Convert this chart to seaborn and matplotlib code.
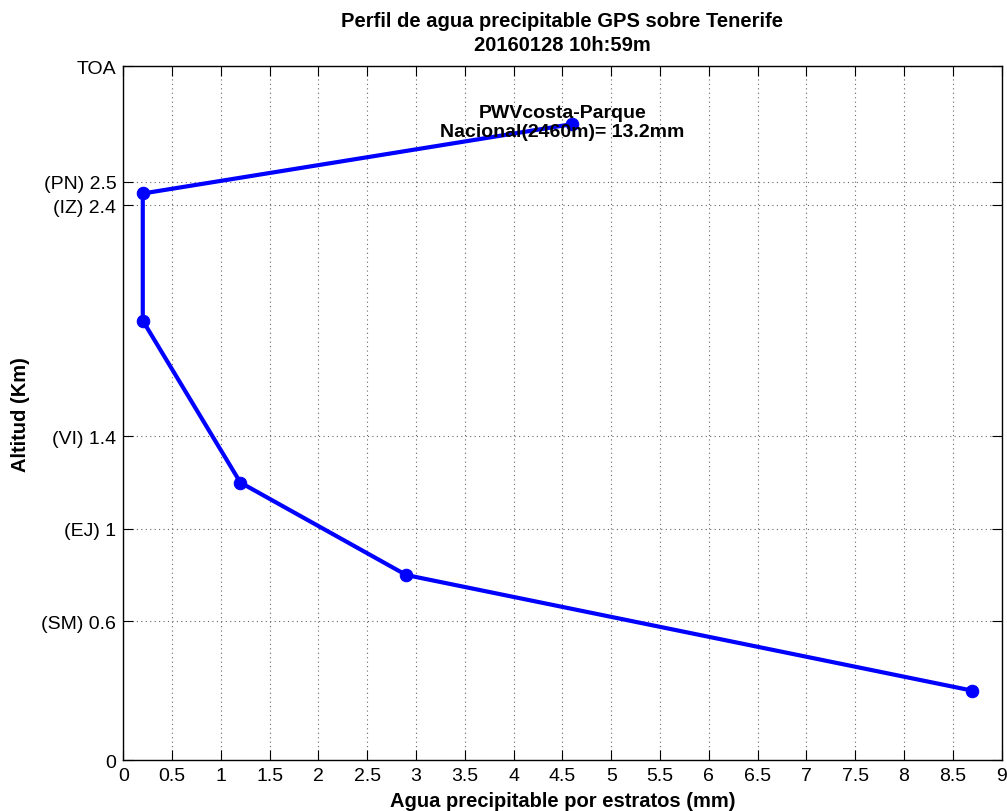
import matplotlib
matplotlib.use("Agg")
import matplotlib.pyplot as plt
import seaborn as sns
import pandas as pd

# Precipitable water per layer (mm) and layer altitude (km)
pwv_mm = [8.7, 2.9, 1.2, 0.2, 0.2, 4.6]
altitude_km = [0.3, 0.8, 1.2, 1.9, 2.45, 2.75]

ytick_values = [0, 0.6, 1, 1.4, 2.4, 2.5, 3.0]
ytick_labels = ["0", "(SM) 0.6", "(EJ) 1", "(VI) 1.4", "(IZ) 2.4", "(PN) 2.5", "TOA"]
xtick_values = [0, 0.5, 1, 1.5, 2, 2.5, 3, 3.5, 4, 4.5, 5, 5.5, 6, 6.5, 7, 7.5, 8, 8.5, 9]
xtick_labels = ["0", "0.5", "1", "1.5", "2", "2.5", "3", "3.5", "4", "4.5",
                "5", "5.5", "6", "6.5", "7", "7.5", "8", "8.5", "9"]

title_text = "Perfil de agua precipitable GPS sobre Tenerife\n20160128 10h:59m"
note_text = "PWVcosta-Parque\nNacional(2460m)= 13.2mm"

sns.set_theme(style="ticks")
plt.rcParams["font.family"] = ["Liberation Sans", "DejaVu Sans"]
plt.rcParams["text.color"] = "black"
plt.rcParams["axes.labelcolor"] = "black"

df = pd.DataFrame({"pwv": pwv_mm, "alt": altitude_km})

fig = plt.figure(figsize=(10.07, 8.12), dpi=100)
ax = fig.add_axes([0.1224, 0.0628, 0.8722, 0.8543])

sns.lineplot(data=df, x="pwv", y="alt", sort=False, estimator=None, ax=ax,
             color="#0000ff", linewidth=3.0, marker="o", markersize=9,
             markeredgecolor="#0000ff", markerfacecolor="#0000ff")

ax.set_xlim(0, 9)
ax.set_ylim(0, 3.0)
ax.set_xticks(xtick_values)
ax.set_xticklabels(xtick_labels)
ax.set_yticks(ytick_values)
ax.set_yticklabels(ytick_labels)

ax.grid(True, linestyle=(0, (1, 3)), color="#666666", linewidth=0.8)
ax.tick_params(direction="in", length=7, width=0.8, top=True, right=True,
               labelsize=14, colors="black", pad=5)
for s in ax.spines.values():
    s.set_visible(True)
    s.set_color("black")
    s.set_linewidth(1.0)

ax.set_xlabel("Agua precipitable por estratos (mm)", fontsize=14.5, fontweight="bold", labelpad=5)
ax.set_ylabel("Altitud (Km)", fontsize=14.5, fontweight="bold", labelpad=8)
ax.set_title(title_text, fontsize=14.5, fontweight="bold", pad=12, linespacing=1.3,
             color="black")

ax.text(4.5, 2.76, note_text, ha="center", va="center", fontsize=14,
        fontweight="bold", linespacing=1.15)

fig.savefig("out.png", dpi=100, facecolor="white")
